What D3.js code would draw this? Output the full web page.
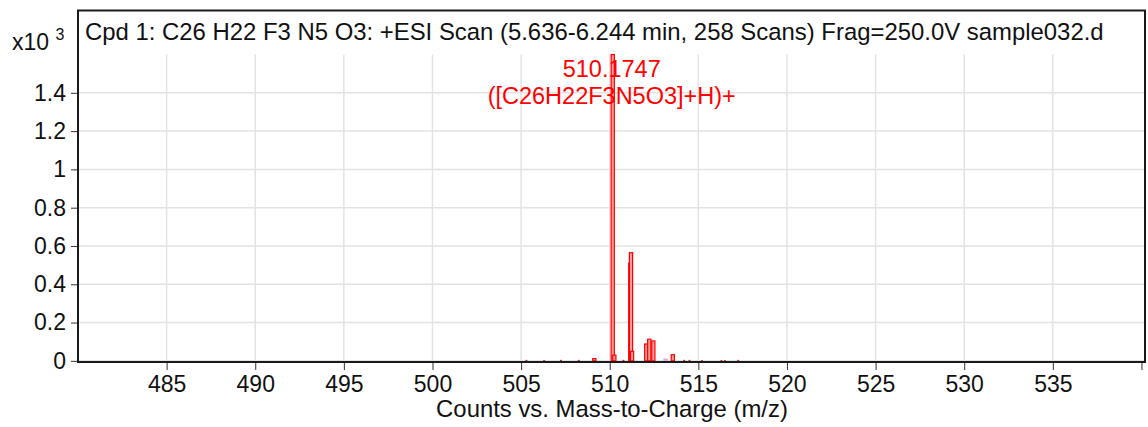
<!DOCTYPE html>
<html>
<head>
<meta charset="utf-8">
<script src="https://cdn.jsdelivr.net/npm/d3@7"></script>
<style>
  body { margin: 0; background: #fff; }
  text { font-family: "Liberation Sans", Arial, sans-serif; }
</style>
</head>
<body>
<div id="chart"></div>
<script>
// peaks (m/z, counts x10^3)
let peakMz = [509.13, 510.17, 510.26, 511.16, 511.20, 511.26, 512.06, 512.23, 512.46, 513.56]
let peakCounts = [0.012, 1.6, 0.03, 0.51, 0.565, 0.05, 0.088, 0.113, 0.104, 0.032]

// tiny baseline noise marks
let noiseMz = [505.3, 506.3, 507.25, 508.25, 510.77, 514.2, 514.5, 515.2, 516.3, 516.5, 517.25]
let noiseCounts = [0.005, 0.004, 0.005, 0.005, 0.005, 0.005, 0.005, 0.004, 0.004, 0.004, 0.005]

// predicted isotope box (pink)
let isoMz = [513.15]
let isoCounts = [0.012]

let xTicks = [485, 490, 495, 500, 505, 510, 515, 520, 525, 530, 535, 540]
let yTicks = [0, 0.2, 0.4, 0.6, 0.8, 1, 1.2, 1.4]

let titleText = 'Cpd 1: C26 H22 F3 N5 O3: +ESI Scan (5.636-6.244 min, 258 Scans) Frag=250.0V sample032.d'
let peakLabel = ['510.1747', '([C26H22F3N5O3]+H)+']
let xTitle = 'Counts vs. Mass-to-Charge (m/z)'

let width = 1148
let height = 427
let plot = { left: 78, right: 1145, top: 10.5, bottom: 362 }

let svg = d3
  .select('#chart')
  .append('svg')
  .attr('width', width)
  .attr('height', height)

svg.append('rect').attr('width', width).attr('height', height).attr('fill', '#fff')

let xPositionScale = d3.scaleLinear().domain([480, 540.2]).range([plot.left, plot.right])
let yPositionScale = d3.scaleLinear().domain([-0.006, 1.83]).range([plot.bottom, plot.top])

// gridlines
svg
  .selectAll('.vgrid')
  .data(xTicks.filter(d => d < 540))
  .enter()
  .append('line')
  .attr('x1', d => xPositionScale(d))
  .attr('x2', d => xPositionScale(d))
  .attr('y1', yPositionScale(1.6))
  .attr('y2', plot.bottom)
  .attr('stroke', '#e3e3e3')
  .attr('stroke-width', 1.5)

svg
  .selectAll('.hgrid')
  .data(yTicks)
  .enter()
  .append('line')
  .attr('x1', plot.left)
  .attr('x2', plot.right)
  .attr('y1', d => yPositionScale(d))
  .attr('y2', d => yPositionScale(d))
  .attr('stroke', '#e3e3e3')
  .attr('stroke-width', 1.5)

// noise sticks
svg
  .selectAll('.noise')
  .data(noiseMz)
  .enter()
  .append('line')
  .attr('x1', d => xPositionScale(d))
  .attr('x2', d => xPositionScale(d))
  .attr('y1', yPositionScale(0))
  .attr('y2', (d, i) => yPositionScale(noiseCounts[i]))
  .attr('stroke', '#b01010')
  .attr('stroke-width', 2)

// isotope box
svg
  .selectAll('.iso')
  .data(isoMz)
  .enter()
  .append('rect')
  .attr('x', d => xPositionScale(d - 0.13))
  .attr('width', d => xPositionScale(d + 0.13) - xPositionScale(d - 0.13))
  .attr('y', (d, i) => yPositionScale(isoCounts[i]))
  .attr('height', (d, i) => yPositionScale(0) - yPositionScale(isoCounts[i]))
  .attr('fill', '#dda6dd')

// peaks
svg
  .selectAll('.peak')
  .data(peakMz)
  .enter()
  .append('rect')
  .attr('class', 'peak')
  .attr('x', d => xPositionScale(d - 0.09))
  .attr('width', d => xPositionScale(d + 0.09) - xPositionScale(d - 0.09))
  .attr('y', (d, i) => yPositionScale(peakCounts[i]))
  .attr('height', (d, i) => yPositionScale(0) - yPositionScale(peakCounts[i]))
  .attr('fill', '#ff9c9c')
  .attr('stroke', '#ff0000')
  .attr('stroke-width', 1.2)

// peak label
svg
  .selectAll('.plabel')
  .data(peakLabel)
  .enter()
  .append('text')
  .attr('x', xPositionScale(510.17) - 1)
  .attr('y', (d, i) => 77 + i * 27)
  .attr('text-anchor', 'middle')
  .attr('font-size', 23.5)
  .attr('fill', '#ff0000')
  .text(d => d)

// frame
svg
  .append('rect')
  .attr('x', plot.left)
  .attr('y', plot.top)
  .attr('width', plot.right - plot.left)
  .attr('height', plot.bottom - plot.top)
  .attr('fill', 'none')
  .attr('stroke', '#1a1a1a')
  .attr('stroke-width', 2)

// axes
let yAxis = d3
  .axisLeft(yPositionScale)
  .tickValues(yTicks)
  .tickSize(6)
  .tickPadding(5)
  .tickFormat(d3.format('~g'))

svg
  .append('g')
  .attr('transform', `translate(${plot.left - 1},0)`)
  .call(yAxis)
  .call(g => g.select('.domain').remove())
  .call(g => g.selectAll('line').attr('stroke', '#333'))
  .call(g =>
    g
      .selectAll('text')
      .attr('font-size', 23)
      .attr('font-family', '"Liberation Sans", Arial, sans-serif')
      .attr('fill', '#111')
  )

let xAxis = d3
  .axisBottom(xPositionScale)
  .tickValues(xTicks)
  .tickSize(7)
  .tickPadding(6)
  .tickFormat(d => (d < 540 ? d : ''))

svg
  .append('g')
  .attr('transform', `translate(0,${plot.bottom + 1})`)
  .call(xAxis)
  .call(g => g.select('.domain').remove())
  .call(g => g.selectAll('line').attr('stroke', '#333'))
  .call(g =>
    g
      .selectAll('text')
      .attr('font-size', 23)
      .attr('font-family', '"Liberation Sans", Arial, sans-serif')
      .attr('fill', '#111')
  )

// title and multiplier
svg
  .append('text')
  .attr('x', 85)
  .attr('y', 40)
  .attr('font-size', 23.9)
  .attr('fill', '#111')
  .text(titleText)

let mult = svg.append('text').attr('x', 12).attr('y', 50).attr('font-size', 23).attr('fill', '#111')
mult.append('tspan').text('x10 ')
mult.append('tspan').attr('dy', -10).attr('font-size', 16).text('3')

svg
  .append('text')
  .attr('x', 612)
  .attr('y', 417)
  .attr('text-anchor', 'middle')
  .attr('font-size', 23.9)
  .attr('fill', '#111')
  .text(xTitle)
</script>
</body>
</html>
